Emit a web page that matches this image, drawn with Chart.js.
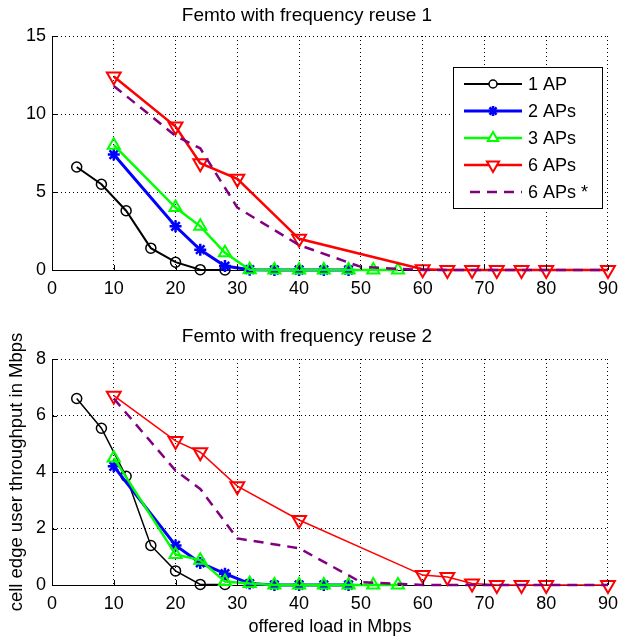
<!DOCTYPE html>
<html>
<head>
<meta charset="utf-8">
<script src="https://cdn.jsdelivr.net/npm/chart.js@4.4.0/dist/chart.umd.min.js"></script>
<style>
  body { margin: 0; background: #fff; }
  canvas { display: block; }
</style>
</head>
<body>
<canvas id="reuse1" width="626" height="300"></canvas>
<canvas id="reuse2" width="626" height="340"></canvas>
<script>
// offered load (Mbps) for each curve
const load1AP = [4, 8, 12, 16, 20, 24, 28];
const load2AP = [10, 20, 24, 28, 32, 36, 40, 44, 48];
const load3AP = [10, 20, 24, 28, 32, 36, 40, 44, 48, 52, 56];
const load6AP = [10, 20, 24, 30, 40, 60, 64, 68, 72, 76, 80, 90];
const load6APstar = [10, 20, 24, 30, 40, 50, 60, 90];

// reuse 1
const r1_1AP = [6.6, 5.5, 3.8, 1.4, 0.5, 0.02, 0];
const r1_2AP = [7.4, 2.8, 1.3, 0.25, 0.02, 0, 0, 0, 0];
const r1_3AP = [8.0, 4.0, 2.8, 1.1, 0.02, 0, 0, 0, 0, 0, 0];
const r1_6AP = [12.4, 9.2, 6.85, 5.85, 2.0, 0.05, 0, 0, 0, 0, 0, 0];
const r1_6APstar = [11.8, 8.6, 7.8, 4.0, 1.6, 0.2, 0, 0];

// reuse 2
const r2_1AP = [6.6, 5.55, 3.85, 1.4, 0.5, 0.02, 0.02];
const r2_2AP = [4.2, 1.4, 0.78, 0.4, 0.05, 0, 0, 0, 0];
const r2_3AP = [4.5, 1.08, 0.88, 0.12, 0.05, 0, 0, 0, 0, 0, 0];
const r2_6AP = [6.7, 5.1, 4.7, 3.5, 2.3, 0.35, 0.28, 0.05, 0, 0, 0, 0];
const r2_6APstar = [6.6, 4.05, 3.4, 1.65, 1.3, 0.1, 0, 0];

const seriesNames = ['1 AP', '2 APs', '3 APs', '6 APs', '6 APs *'];
const xTicks = [0, 10, 20, 30, 40, 50, 60, 70, 80, 90];

Chart.defaults.font.family = '"Liberation Sans", Arial, sans-serif';
Chart.defaults.font.size = 18;
Chart.defaults.color = '#000';

function pts(xs, ys) {
  return xs.map((x, i) => ({ x: x, y: ys[i] }));
}

const styles = [
  { color: '#000000', style: 'circle', radius: 5, rotation: 0, pw: 1.5 },
  { color: '#0000ff', style: 'star', radius: 6, rotation: 0, pw: 2.5 },
  { color: '#00ff00', style: 'triangle', radius: 7, rotation: 0, pw: 2 },
  { color: '#ff0000', style: 'triangle', radius: 8, rotation: 180, pw: 2 },
  { color: '#800080', style: false, radius: 0, rotation: 0, pw: 0 }
];

function makeDatasets(ys, widths) {
  const xs = [load1AP, load2AP, load3AP, load6AP, load6APstar];
  return ys.map((y, i) => ({
    label: seriesNames[i],
    data: pts(xs[i], y),
    borderColor: styles[i].color,
    backgroundColor: styles[i].color,
    borderWidth: widths[i],
    borderDash: i === 4 ? [10, 7] : [],
    pointStyle: styles[i].style,
    pointRadius: styles[i].radius,
    pointRotation: styles[i].rotation,
    pointBorderWidth: styles[i].pw,
    pointBorderColor: styles[i].color,
    pointBackgroundColor: 'rgba(255,255,255,0)',
    tension: 0,
    clip: false,
    order: 5 - i
  }));
}

function makeScales(ymax, ystep, xH, withTitles) {
  return {
    x: {
      type: 'linear', min: 0, max: 90,
      afterBuildTicks: s => { s.ticks = xTicks.map(v => ({ value: v })); },
      ticks: { padding: 8, maxRotation: 0, autoSkip: false },
      grid: { color: '#000', lineWidth: 1, drawTicks: false },
      border: { color: '#000', width: 1, dash: [1, 3] },
      title: { display: withTitles, text: 'offered load in Mbps', padding: { top: 0, bottom: 2 } },
      afterFit: s => { s.height = xH; }
    },
    y: {
      type: 'linear', min: 0, max: ymax,
      ticks: { stepSize: ystep, padding: 6 },
      grid: { color: '#000', lineWidth: 1, drawTicks: false },
      border: { color: '#000', width: 1, dash: [1, 3] },
      title: { display: withTitles, text: 'cell edge user throughput in Mbps', font: { size: 18.5 }, padding: { top: 6, bottom: 0 } },
      afterFit: s => { s.width = 52; }
    }
  };
}

// small inward tick marks on the axes, like the original figure
const innerTicks = {
  id: 'innerTicks',
  afterDraw(chart) {
    const { ctx, chartArea: a, scales } = chart;
    ctx.save();
    ctx.strokeStyle = '#000';
    ctx.lineWidth = 1;
    ctx.beginPath();
    scales.x.ticks.forEach(t => {
      const px = Math.round(scales.x.getPixelForValue(t.value)) + 0.5;
      ctx.moveTo(px, a.bottom);
      ctx.lineTo(px, a.bottom - 5);
    });
    scales.y.ticks.forEach(t => {
      const py = Math.round(scales.y.getPixelForValue(t.value)) + 0.5;
      ctx.moveTo(a.left, py);
      ctx.lineTo(a.left + 5, py);
    });
    ctx.stroke();
    ctx.restore();
  }
};

// boxed legend inside the first plot
const boxLegend = {
  id: 'boxLegend',
  afterDraw(chart) {
    const ctx = chart.ctx;
    const x0 = 453, y0 = 67, w = 149, h = 141;
    ctx.save();
    ctx.fillStyle = '#fff';
    ctx.fillRect(x0, y0, w, h);
    ctx.strokeStyle = '#000';
    ctx.lineWidth = 1;
    ctx.strokeRect(x0 + 0.5, y0 + 0.5, w, h);
    chart.data.datasets.forEach((d, i) => {
      const y = 84 + i * 27;
      const st = styles[i];
      ctx.strokeStyle = st.color;
      ctx.lineWidth = d.borderWidth;
      ctx.setLineDash(d.borderDash);
      ctx.beginPath();
      ctx.moveTo(i === 4 ? 470 : 464, y);
      ctx.lineTo(522, y);
      ctx.stroke();
      ctx.setLineDash([]);
      if (st.style && Chart.helpers && Chart.helpers.drawPoint) {
        ctx.fillStyle = '#fff';
        ctx.lineWidth = st.pw;
        Chart.helpers.drawPoint(ctx, { pointStyle: st.style, radius: st.radius - 1, rotation: st.rotation, borderWidth: st.pw }, 493, y);
      }
      ctx.fillStyle = '#000';
      ctx.font = '18px "Liberation Sans", Arial, sans-serif';
      ctx.textBaseline = 'middle';
      ctx.fillText(d.label, 528, y + 1);
    });
    ctx.restore();
  }
};

function titleOpts(text, top, bottom) {
  return {
    display: true, text: text, color: '#000',
    font: { size: 19, weight: 'normal' },
    padding: { top: top, bottom: bottom }
  };
}

new Chart(document.getElementById('reuse1'), {
  type: 'line',
  data: { datasets: makeDatasets([r1_1AP, r1_2AP, r1_3AP, r1_6AP, r1_6APstar], [2, 3, 2.5, 2.5, 2.5]) },
  options: {
    responsive: false, animation: false, events: [],
    layout: { padding: { left: 0, right: 12, top: 0, bottom: 0 } },
    plugins: { legend: { display: false }, tooltip: { enabled: false }, title: titleOpts('Femto with frequency reuse 1', 4.6, 8.6) },
    scales: makeScales(15, 5, 30, false)
  },
  plugins: [innerTicks, boxLegend]
});

new Chart(document.getElementById('reuse2'), {
  type: 'line',
  data: { datasets: makeDatasets([r2_1AP, r2_2AP, r2_3AP, r2_6AP, r2_6APstar], [1.5, 3, 2.5, 1.5, 2.5]) },
  options: {
    responsive: false, animation: false, events: [],
    layout: { padding: { left: 0, right: 12, top: 0, bottom: 0 } },
    plugins: { legend: { display: false }, tooltip: { enabled: false }, title: titleOpts('Femto with frequency reuse 2', 25.1, 11.1) },
    scales: makeScales(8, 2, 55, true)
  },
  plugins: [innerTicks]
});
</script>
</body>
</html>
